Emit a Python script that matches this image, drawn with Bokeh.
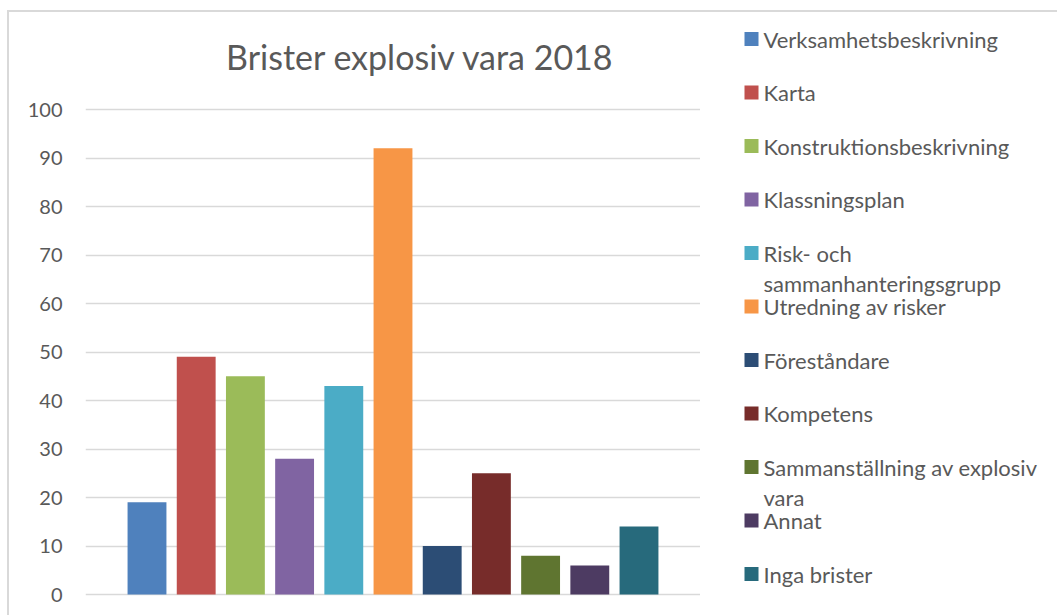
import textwrap
from bokeh.plotting import figure
from bokeh.layouts import row
from bokeh.models import Range1d, FixedTicker, ColumnDataSource
from bokeh.core.properties import value
from bokeh.embed import file_html
from bokeh.resources import INLINE

# ---- data ----
title_text = "Brister explosiv vara 2018"
categories = [
    "Verksamhetsbeskrivning",
    "Karta",
    "Konstruktionsbeskrivning",
    "Klassningsplan",
    "Risk- och sammanhanteringsgrupp",
    "Utredning av risker",
    "Föreståndare",
    "Kompetens",
    "Sammanställning av explosiv vara",
    "Annat",
    "Inga brister",
]
counts = [19, 49, 45, 28, 43, 92, 10, 25, 8, 6, 14]
colors = [
    "#4F81BD", "#C0504D", "#9BBB59", "#8064A2", "#4BACC6", "#F79646",
    "#2C4D75", "#772C2A", "#5F7530", "#4D3B62", "#276A7C",
]
y_ticks = [0, 10, 20, 30, 40, 50, 60, 70, 80, 90, 100]

TEXT = "#595959"
GRID = "#d9d9d9"
FONT = "Lato"

# ---- geometry (page pixels) ----
M_LEFT, M_TOP, BORDER = 7, 10, 2
OX, OY = M_LEFT + BORDER, M_TOP + BORDER   # page position of canvas origin
PAGE_W, PAGE_H = 1057, 615
FRAME_L, FRAME_R = 85, 700      # plot-area left/right (page px)
Y0_PX, Y100_PX = 594, 109       # where 0 and 100 sit (page px)
n = len(categories)

main_w = FRAME_R - OX
leg_w = PAGE_W - FRAME_R
fig_h = PAGE_H - OY

px_per_y = (Y0_PX - Y100_PX) / 100.0
y_top = 100 + (Y100_PX - OY) / px_per_y
y_bot = -(PAGE_H - Y0_PX) / px_per_y
x_start, x_end = -1.25, n - 1 + 1.25
px_per_x = (FRAME_R - FRAME_L) / (x_end - x_start)

def px_to_x(px):
    return x_start + (px - FRAME_L) / px_per_x

def px_to_y(py):
    return 100 + (Y100_PX - py) / px_per_y

# ---- main chart ----
src = ColumnDataSource(dict(x=list(range(n)), top=counts, color=colors, name=categories))

p = figure(
    width=main_w, height=fig_h,
    x_range=Range1d(x_start, x_end),
    y_range=Range1d(y_bot, y_top),
    x_axis_location=None,
    output_backend="svg", toolbar_location=None,
    min_border_left=FRAME_L - OX, min_border_right=0,
    min_border_top=0, min_border_bottom=0,
)
p.vbar(x="x", top="top", bottom=0, width=0.79, fill_color="color", line_color=None, source=src)

p.yaxis.ticker = FixedTicker(ticks=y_ticks)
p.yaxis.axis_line_color = None
p.yaxis.major_tick_line_color = None
p.yaxis.minor_tick_line_color = None
p.yaxis.major_tick_out = 0
p.yaxis.major_label_standoff = 23
p.yaxis.major_label_text_font = FONT
p.yaxis.major_label_text_font_size = "20px"
p.yaxis.major_label_text_color = TEXT

p.xgrid.visible = False
p.ygrid.ticker = FixedTicker(ticks=y_ticks)
p.ygrid.grid_line_color = GRID
p.ygrid.grid_line_width = 1.6
p.outline_line_color = None

# chart title
p.text(x=[px_to_x(420)], y=[px_to_y(56)], text=[title_text],
       text_font=value(FONT), text_font_size="34px", text_color=TEXT,
       text_align="center", text_baseline="middle")

# ---- legend panel ----
leg = figure(
    width=leg_w, height=fig_h,
    x_range=Range1d(FRAME_R, PAGE_W), y_range=Range1d(PAGE_H, OY),
    x_axis_location=None, y_axis_location=None,
    output_backend="svg", toolbar_location=None, min_border=0,
)
leg.grid.visible = False
leg.outline_line_color = None

first_y, pitch, line_gap = 38.5, 53.5, 30.0
sq_x, txt_x = 751.0, 763.0
sq_y, tx, ty, tt = [], [], [], []
for i, name in enumerate(categories):
    yc = first_y + i * pitch
    sq_y.append(yc)
    for j, line in enumerate(textwrap.wrap(name, 28)):
        tx.append(txt_x)
        ty.append(yc + j * line_gap)
        tt.append(line)

leg.rect(x=[sq_x] * n, y=sq_y, width=14, height=14, fill_color=colors, line_color=None)
leg.text(x=tx, y=ty, text=tt, text_font=value(FONT), text_font_size="22px",
         text_color=TEXT, text_baseline="middle", text_align="left")

layout = row(
    p, leg,
    margin=(M_TOP, 0, 0, M_LEFT),
    styles={"border-top": f"{BORDER}px solid {GRID}", "border-left": f"{BORDER}px solid {GRID}"},
)

open("out.html", "w").write(file_html(layout, INLINE))
